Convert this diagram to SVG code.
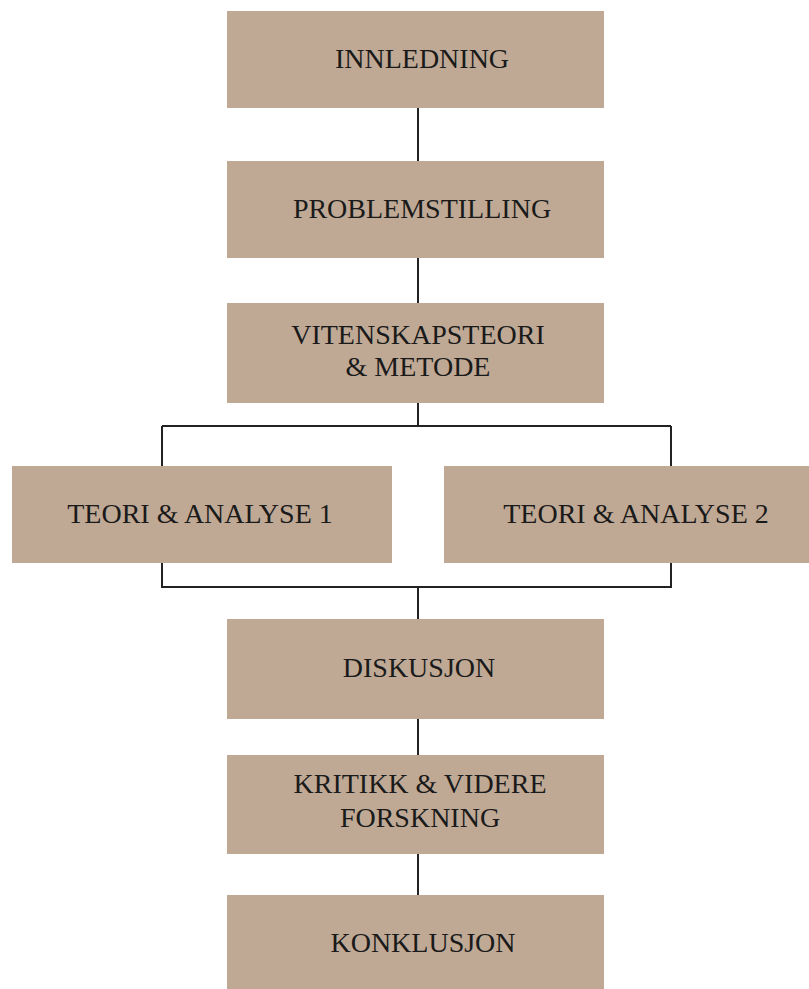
<svg xmlns="http://www.w3.org/2000/svg" width="809" height="989" viewBox="0 0 809 989">
<style>
.box{fill:#BFA995}
.t{font-family:"Liberation Serif","Times New Roman",serif;font-size:28px;fill:#1a1a1a;text-anchor:middle}
.c{fill:none;stroke:#222;stroke-width:2}
</style>
<rect width="809" height="989" fill="#fff"/>
<g id="connectors">
<path class="c" d="M418 108V161M418 258V303M418 403V426M162 426H671M162 426V466M671 426V466M162 563V587H671V563M418 587V619M418 719V755M418 854V895"/>
</g>
<g id="innledning"><rect class="box" x="227" y="11" width="377" height="97"/><text class="t" x="422" y="68">INNLEDNING</text></g>
<g id="problemstilling"><rect class="box" x="227" y="161" width="377" height="97"/><text class="t" x="422" y="218">PROBLEMSTILLING</text></g>
<g id="vitenskapsteori"><rect class="box" x="227" y="303" width="377" height="100"/><text class="t" x="418" y="344">VITENSKAPSTEORI</text><text class="t" x="418" y="376">&amp; METODE</text></g>
<g id="teori1"><rect class="box" x="12" y="466" width="380" height="97"/><text class="t" x="200" y="523">TEORI &amp; ANALYSE 1</text></g>
<g id="teori2"><rect class="box" x="444" y="466" width="384" height="97"/><text class="t" x="636" y="523">TEORI &amp; ANALYSE 2</text></g>
<g id="diskusjon"><rect class="box" x="227" y="619" width="377" height="100"/><text class="t" x="419" y="677">DISKUSJON</text></g>
<g id="kritikk"><rect class="box" x="227" y="755" width="377" height="99"/><text class="t" x="420" y="793">KRITIKK &amp; VIDERE</text><text class="t" x="420" y="827">FORSKNING</text></g>
<g id="konklusjon"><rect class="box" x="227" y="895" width="377" height="100"/><text class="t" x="423" y="952">KONKLUSJON</text></g>
</svg>
